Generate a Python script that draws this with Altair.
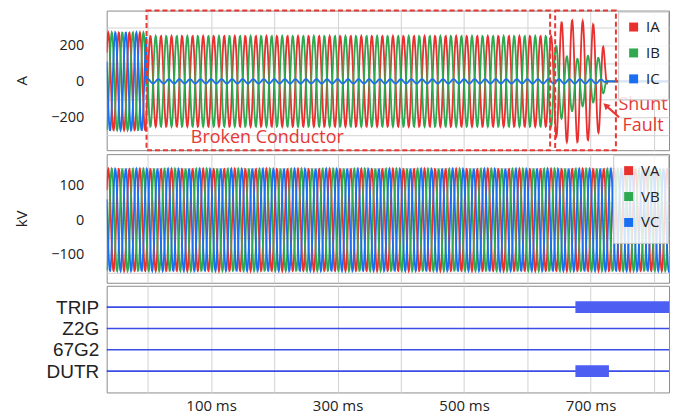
import altair as alt
import numpy as np
import pandas as pd

# ---------------- values ----------------
T_DOMAIN = [-65, 824]          # ms shown on the time axis
FREQ_HZ = 60.0
T_BREAK = -2.0                 # conductor breaks
T_FAULT = 644.0                # shunt fault starts
T_CLEAR = 727.0                # currents interrupted

PHASES_I = ["IA", "IB", "IC"]
PHASES_V = ["VA", "VB", "VC"]
PHASE_COLORS = ["#e8302e", "#2fa84f", "#1a6ff0"]

I_PRE_AMP = [272, 272, 272]          # A, before the break
I_PRE_ANGLE = [0, -120, 120]
I_BRK_AMP = [252, 252, 12]           # A, broken conductor
I_BRK_ANGLE = [0, 180, 90]
FAULT_T = [644, 656, 673, 690, 706, 718, 727]
IA_FAULT_AMP = [300, 335, 340, 335, 315, 260, 0]
IB_FAULT_AMP = [225, 175, 140, 135, 135, 100, 0]
IB_FAULT_OFS = [-20, -25, -20, 0, 20, 10, 0]
IC_FAULT_AMP = [12, 12, 12, 12, 12, 10, 0]

V_AMP = [146, 146, 146]              # kV
V_ANGLE = [0, -120, 120]

I_DOMAIN = [-383, 394]
V_DOMAIN = [-180, 189]

SIGNALS = ["TRIP", "Z2G", "67G2", "DUTR"]
SIGNAL_ROW = [4, 3, 2, 1]
ASSERT_SIGNAL = ["TRIP", "DUTR"]
ASSERT_ROW = [4, 1]
ASSERT_START = [676, 676]
ASSERT_END = [824, 729]

BOX_T0 = [-2, 644]
BOX_T1 = [636, 740]
NOTE_TEXT = ["Broken Conductor", "Shunt", "Fault"]
NOTE_T = [189, 783, 783]
NOTE_V = [-317, -133, -250]
ARROW_T = [745, 724]
ARROW_V = [-200, -134]

RED = "#e53935"
SIG_COLOR = "#3a4de6"
BAR_COLOR = "#4d5ef2"

# ---------------- build the waveforms ----------------
t = np.arange(T_DOMAIN[0], T_DOMAIN[1] + 0.25, 0.5)
w = 2 * np.pi * FREQ_HZ / 1000.0


def sine(amp, ang, ofs=0.0):
    return ofs + amp * np.sin(w * t + np.radians(ang))


pre = t < T_BREAK
brk = (t >= T_BREAK) & (t < T_FAULT)
flt = (t >= T_FAULT) & (t < T_CLEAR)

fault_amp = [IA_FAULT_AMP, IB_FAULT_AMP, IC_FAULT_AMP]
fault_ofs = [[0] * len(FAULT_T), IB_FAULT_OFS, [0] * len(FAULT_T)]

rows = []
for k, ph in enumerate(PHASES_I):
    v = np.zeros_like(t)
    v[pre] = sine(I_PRE_AMP[k], I_PRE_ANGLE[k])[pre]
    v[brk] = sine(I_BRK_AMP[k], I_BRK_ANGLE[k])[brk]
    a = np.interp(t, FAULT_T, fault_amp[k])
    o = np.interp(t, FAULT_T, fault_ofs[k])
    v[flt] = (o + a * np.sin(w * t + np.radians(I_BRK_ANGLE[k])))[flt]
    rows.append(pd.DataFrame({"t": t, "v": np.round(v, 1), "s": ph}))
cur_df = pd.concat(rows, ignore_index=True)

rows = []
for k, ph in enumerate(PHASES_V):
    rows.append(pd.DataFrame({"t": t, "v": np.round(sine(V_AMP[k], V_ANGLE[k]), 1), "s": ph}))
volt_df = pd.concat(rows, ignore_index=True)

W = 564
H1, H2, H3 = 140, 129, 107

x_scale = alt.Scale(domain=T_DOMAIN, nice=False, zero=False)
grid_vals = list(range(0, 801, 100))
x_axis_plain = alt.Axis(values=grid_vals, labels=False, ticks=False, domain=False, title=None, grid=True)
x_axis_bottom = alt.Axis(values=grid_vals, labelExpr="datum.value % 200 == 100 ? datum.value + ' ms' : ''",
                         ticks=False, domain=False, title=None, grid=True, labelFontSize=15,
                         labelPadding=6, labelFont="Open Sans", labelColor="#222")

i_scale = alt.Scale(domain=I_DOMAIN, nice=False, zero=False)
i_axis = alt.Axis(values=[-300, -200, -100, 0, 100, 200, 300],
                  labelExpr="abs(datum.value) == 200 || datum.value == 0 ? datum.label : ''",
                  title="A", titleX=-85, titleY=H1 / 2, titleBaseline="middle",
                  titleFont="Open Sans", titleFontSize=15, titleFontWeight="normal", titleColor="#222",
                  labelPadding=23, labelFontSize=14.5, ticks=False, domain=False)
v_scale = alt.Scale(domain=V_DOMAIN, nice=False, zero=False)
v_axis = alt.Axis(values=[-150, -100, -50, 0, 50, 100, 150],
                  labelExpr="abs(datum.value) == 100 || datum.value == 0 ? datum.label : ''",
                  title="kV", titleX=-85, titleY=H2 / 2, titleBaseline="middle",
                  titleFont="Open Sans", titleFontSize=15, titleFontWeight="normal", titleColor="#222",
                  labelPadding=23, labelFontSize=14.5, ticks=False, domain=False)
row_expr = " : ".join(f"datum.value == {r} ? '{n}'" for n, r in zip(SIGNALS, SIGNAL_ROW)) + " : ''"
r_scale = alt.Scale(domain=[0, 5], nice=False, zero=False)
r_axis = alt.Axis(values=SIGNAL_ROW, labelExpr=row_expr, grid=False, ticks=False, domain=False,
                  title=None, labelFont="Liberation Sans", labelFontSize=19, labelColor="#222",
                  labelPadding=8)


def legend():
    return alt.Legend(title=None, orient="top-right", offset=1, symbolType="square", symbolSize=16,
                      symbolStrokeWidth=5, labelFontSize=15, labelFont="Open Sans", labelColor="#222",
                      rowPadding=1, padding=8, fillColor="rgba(255,255,255,0.82)", strokeColor="#c8c8c8",
                      labelOffset=5)


# ---------------- panel 1: currents ----------------
i_lines = alt.Chart(cur_df).mark_line(strokeWidth=1.8, clip=True).encode(
    x=alt.X("t:Q", scale=x_scale, axis=x_axis_plain),
    y=alt.Y("v:Q", scale=i_scale, axis=i_axis),
    color=alt.Color("s:N", scale=alt.Scale(domain=PHASES_I, range=PHASE_COLORS), legend=legend()),
    detail="s:N",
)

box_df = pd.DataFrame({"t0": BOX_T0, "t1": BOX_T1, "v0": [I_DOMAIN[0]] * 2, "v1": [I_DOMAIN[1]] * 2})
boxes = alt.Chart(box_df).mark_rect(filled=False, stroke=RED, strokeWidth=2, strokeDash=[5, 3], clip=False).encode(
    x=alt.X("t0:Q", scale=x_scale, axis=x_axis_plain), x2="t1:Q",
    y=alt.Y("v0:Q", scale=i_scale, axis=i_axis), y2="v1:Q")

note_df = pd.DataFrame({"label": NOTE_TEXT, "t": NOTE_T, "v": NOTE_V})
notes = alt.Chart(note_df).mark_text(font="Open Sans", fontSize=18, color=RED).encode(
    x=alt.X("t:Q", scale=x_scale, axis=x_axis_plain), y=alt.Y("v:Q", scale=i_scale, axis=i_axis),
    text="label:N")

arrow_df = pd.DataFrame({"t0": [ARROW_T[0]], "t1": [ARROW_T[1]], "v0": [ARROW_V[0]], "v1": [ARROW_V[1]]})
arrow_line = alt.Chart(arrow_df).mark_rule(color=RED, strokeWidth=2.2).encode(
    x=alt.X("t0:Q", scale=x_scale, axis=x_axis_plain), x2="t1:Q",
    y=alt.Y("v0:Q", scale=i_scale, axis=i_axis), y2="v1:Q")
arrow_head = alt.Chart(arrow_df).mark_point(shape="triangle-up", filled=True, size=55, angle=313,
                                            color=RED, opacity=1).encode(
    x=alt.X("t1:Q", scale=x_scale, axis=x_axis_plain), y=alt.Y("v1:Q", scale=i_scale, axis=i_axis))

panel1 = alt.layer(i_lines, boxes, notes, arrow_line, arrow_head).properties(width=W, height=H1)

# ---------------- panel 2: voltages ----------------
v_lines = alt.Chart(volt_df).mark_line(strokeWidth=1.8, clip=True).encode(
    x=alt.X("t:Q", scale=x_scale, axis=x_axis_plain),
    y=alt.Y("v:Q", scale=v_scale, axis=v_axis),
    color=alt.Color("s:N", scale=alt.Scale(domain=PHASES_V, range=PHASE_COLORS), legend=legend()),
    detail="s:N",
)
panel2 = v_lines.properties(width=W, height=H2)

# ---------------- panel 3: digital signals ----------------
sig_df = pd.DataFrame({"name": SIGNALS, "row": SIGNAL_ROW,
                       "t0": [T_DOMAIN[0]] * len(SIGNALS), "t1": [T_DOMAIN[1]] * len(SIGNALS)})
sig_lines = alt.Chart(sig_df).mark_rule(color=SIG_COLOR, strokeWidth=1.6).encode(
    x=alt.X("t0:Q", scale=x_scale, axis=x_axis_bottom), x2="t1:Q",
    y=alt.Y("row:Q", scale=r_scale, axis=r_axis))

bar_df = pd.DataFrame({"name": ASSERT_SIGNAL, "row": ASSERT_ROW, "t0": ASSERT_START, "t1": ASSERT_END})
sig_bars = alt.Chart(bar_df).transform_calculate(
    lo="datum.row - 0.28", hi="datum.row + 0.28"
).mark_rect(color=BAR_COLOR, clip=True).encode(
    x=alt.X("t0:Q", scale=x_scale, axis=x_axis_bottom), x2="t1:Q",
    y=alt.Y("lo:Q", scale=r_scale, axis=r_axis), y2="hi:Q")

panel3 = alt.layer(sig_lines, sig_bars).properties(width=W, height=H3)

chart = alt.vconcat(panel1, panel2, panel3, spacing=1).resolve_scale(
    color="independent"
).resolve_legend(color="independent").properties(
    padding={"left": 14, "top": 8, "right": 7, "bottom": 0}
).configure_view(stroke="#8c8c8c", strokeWidth=1).configure_axis(
    gridColor="#d2d2d2", gridWidth=1, labelFont="Open Sans", labelColor="#222", labelFontSize=14
)

chart.save("out.html", embed_options={"renderer": "svg", "actions": False})
